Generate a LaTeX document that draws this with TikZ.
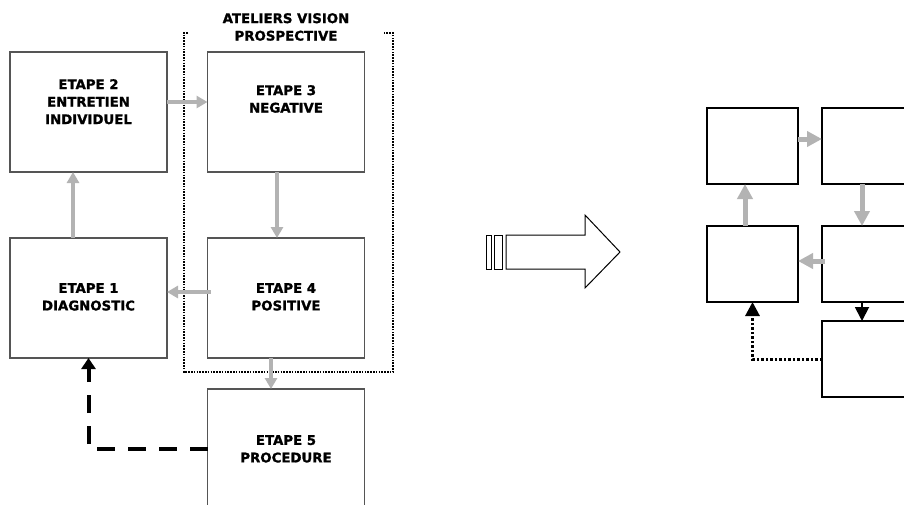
\documentclass[tikz,border=0pt]{standalone}
\usepackage{fontspec}
\setmainfont{DejaVu Sans}[BoldFeatures={FakeBold=1.2}]
\usetikzlibrary{arrows.meta}
\definecolor{arrgray}{HTML}{B3B3B3}
\definecolor{boxgray}{HTML}{555555}
\tikzset{
  lbox/.style={draw=boxgray, line width=1.1pt, fill=white, minimum width=157pt, minimum height=120pt, inner sep=0pt, outer sep=0pt},
  rbox/.style={draw=black, line width=1.8pt, fill=white, minimum width=91pt, minimum height=76pt, inner sep=0pt, outer sep=0pt},
  ltxt/.style={font={\bfseries\fontsize{13.3}{17.5}\selectfont}, align=center, anchor=north, inner sep=0pt},
  garrow/.style={draw=arrgray, line width=4pt, -{Triangle[width=12pt,length=11pt]}},
  grarrow/.style={draw=arrgray, line width=5pt, -{Triangle[width=15pt,length=15pt]}},
}
\begin{document}
\begin{tikzpicture}[x=1pt, y=-1pt]
\useasboundingbox (0,0) rectangle (904,504);
\clip (0,0) rectangle (904,504);
\fill[white] (0,0) rectangle (904,504);
% left diagram boxes
\node[lbox] (b2) at (88.5,112) {};
\node[lbox] (b3) at (286,112) {};
\node[lbox] (b1) at (88.5,298) {};
\node[lbox] (b4) at (286,298) {};
\node[lbox] (b5) at (286,449) {};
% texts
\node[ltxt] (t2) at (88.5,79) {ETAPE 2\\ENTRETIEN\\INDIVIDUEL};
\node[ltxt] (t3) at (286,85) {ETAPE 3\\NEGATIVE};
\node[ltxt] (t1) at (88.5,283) {ETAPE 1\\DIAGNOSTIC};
\node[ltxt] (t4) at (286,283) {ETAPE 4\\POSITIVE};
\node[ltxt] (t5) at (286,435) {ETAPE 5\\PROCEDURE};
\node[ltxt] (title) at (286,13) {ATELIERS VISION\\PROSPECTIVE};
% dotted group frame
\draw[black, line width=2.6pt, dash pattern=on 1.6pt off 1.2pt, line cap=butt] (188,33) -- (184,33) -- (184,372) -- (393,372) -- (393,33) -- (383,33);
% gray arrows
\draw[garrow] ([yshift=10pt]b2.east) -- ([yshift=10pt]b3.west);
\draw[garrow] ([xshift=-9pt]b3.south) -- ([xshift=-9pt]b4.north);
\draw[garrow] ([xshift=-15.5pt]b1.north) -- ([xshift=-15.5pt]b2.south);
\draw[garrow] ([yshift=6pt,xshift=3pt]b4.west) -- ([yshift=6pt]b1.east);
\draw[garrow] ([xshift=-15pt]b4.south) -- ([xshift=-15pt]b5.north);
% dashed return
\draw[black, line width=4pt, dash pattern=on 18pt off 13pt, -{Triangle[width=14pt,length=11pt]}] (b5.west) -| (b1.south);
% big hollow arrow
\draw[black, line width=1pt, fill=white] (486,235) rectangle (491,269);
\draw[black, line width=1pt, fill=white] (494,235) rectangle (502,269);
\draw[black, line width=1pt, fill=white, line join=miter] (506,235) -- (585,235) -- (585,215) -- (620,252) -- (585,288) -- (585,269) -- (506,269) -- cycle;
% right diagram
\node[rbox] (ra) at (752.5,146) {};
\node[rbox] (rb) at (867.5,146) {};
\node[rbox] (rc) at (752.5,264) {};
\node[rbox] (rd) at (867.5,264) {};
\node[rbox] (re) at (867.5,359) {};
\draw[grarrow] ([yshift=7pt]ra.east) -- ([yshift=7pt]rb.west);
\draw[grarrow] ([xshift=-7.5pt]rc.north) -- ([xshift=-7.5pt]ra.south);
\draw[grarrow] ([xshift=-5.5pt]rb.south) -- ([xshift=-5.5pt]rd.north);
\draw[grarrow] ([yshift=3pt,xshift=3pt]rd.west) -- ([yshift=3pt]rc.east);
\draw[black, line width=1.8pt, -{Triangle[width=14pt,length=14pt]}] ([xshift=-5.5pt]rd.south) -- ([xshift=-5.5pt]re.north);
\draw[black, line width=3pt, dash pattern=on 2.5pt off 2pt, -{Triangle[width=14pt,length=14pt]}] (re.west) -| (rc.south);
\end{tikzpicture}
\end{document}
